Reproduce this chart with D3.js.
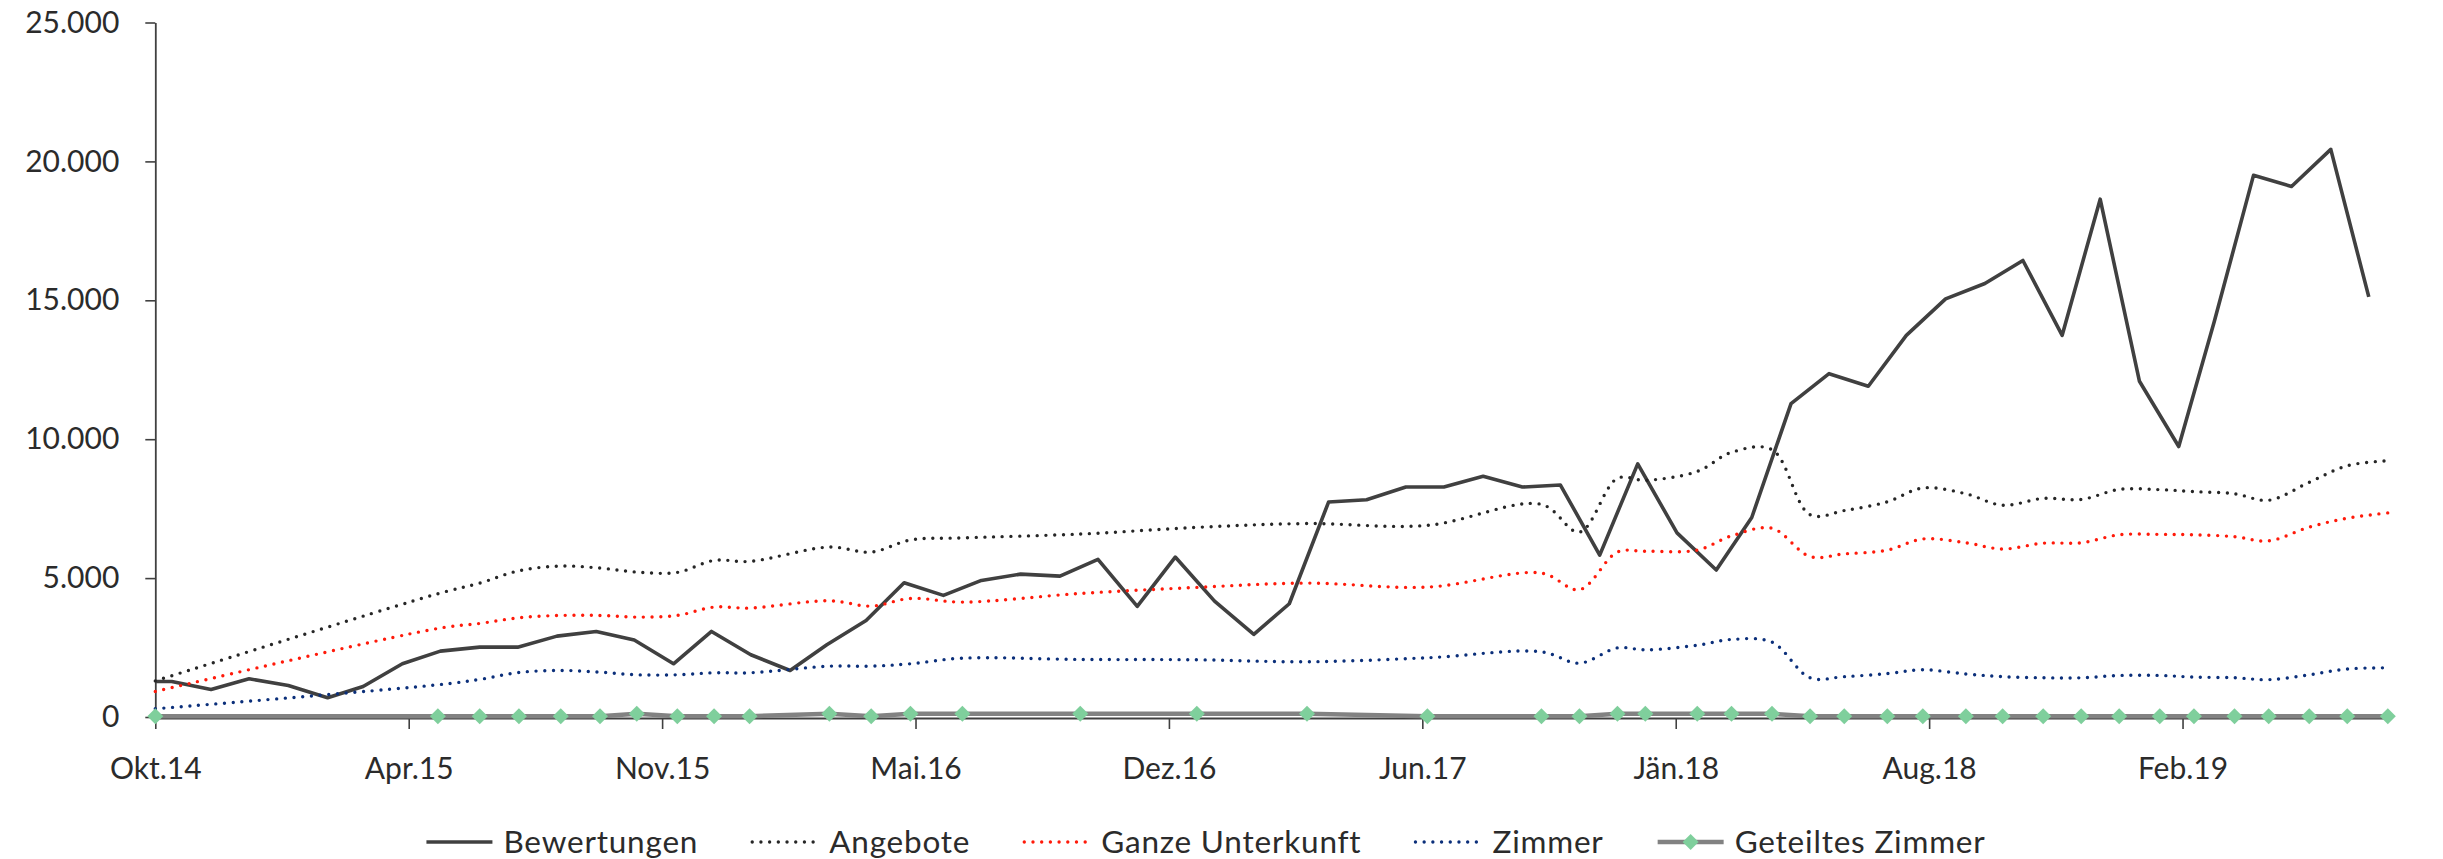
<!DOCTYPE html>
<html lang="de">
<head>
<meta charset="utf-8">
<script src="https://cdn.jsdelivr.net/npm/d3@7"></script>
<style>
  html, body { margin: 0; padding: 0; background: #fff; }
  svg { display: block; }
  text { font-family: Lato, "Open Sans", sans-serif; fill: #2b2b2b; }
</style>
</head>
<body>
<svg id="chart" width="2443" height="859"></svg>
<script>
// ---- Monthly review counts (Bewertungen) ----
const reviewDates = [
  "2014-10-02","2014-10-15","2014-11-15","2014-12-15","2015-01-15","2015-02-15","2015-03-15",
  "2015-04-15","2015-05-15","2015-06-15","2015-07-15","2015-08-15","2015-09-15","2015-10-15",
  "2015-11-15","2015-12-15","2016-01-15","2016-02-15","2016-03-15","2016-04-15","2016-05-15",
  "2016-06-15","2016-07-15","2016-08-15","2016-09-15","2016-10-15","2016-11-15","2016-12-15",
  "2017-01-15","2017-02-15","2017-03-15","2017-04-15","2017-05-15","2017-06-15","2017-07-15",
  "2017-08-15","2017-09-15","2017-10-15","2017-11-15","2017-12-15","2018-01-15","2018-02-15",
  "2018-03-15","2018-04-15","2018-05-15","2018-06-15","2018-07-15","2018-08-15","2018-09-15",
  "2018-10-15","2018-11-15","2018-12-15","2019-01-15","2019-02-15","2019-03-15","2019-04-15",
  "2019-05-15","2019-06-15","2019-07-15"
];
const bewertungen = [
  1280, 1280, 990, 1376, 1135, 692, 1099,
  1916, 2370, 2514, 2514, 2911, 3080, 2770,
  1916, 3080, 2240, 1675, 2600, 3476, 4834,
  4377, 4917, 5144, 5072, 5673, 3980, 5757,
  4171, 2972, 4077, 7737, 7823, 8278, 8278,
  8663, 8278, 8350, 5828, 9113, 6628, 5291,
  7182, 11282, 12359, 11905, 13738, 15053, 15604,
  16433, 13738, 18641, 12085, 9736, 14224, 19498,
  19098, 20434, 15122
];

// ---- Listing snapshots ----
const listingDates = [
  "2014-10-02","2015-05-13","2015-06-15","2015-07-16","2015-08-18","2015-09-18","2015-10-17",
  "2015-11-18","2015-12-17","2016-01-14","2016-03-17","2016-04-19","2016-05-20","2016-06-30",
  "2016-10-01","2017-01-01","2017-03-29","2017-07-02","2017-09-30","2017-10-30","2017-11-29",
  "2017-12-21","2018-01-31","2018-02-27","2018-03-31","2018-04-30","2018-05-27","2018-06-30",
  "2018-07-28","2018-08-31","2018-09-29","2018-10-31","2018-11-30","2018-12-30","2019-01-31",
  "2019-02-27","2019-03-31","2019-04-27","2019-05-29","2019-06-28","2019-07-30"
];
const angebote = [
  1300, 4437, 4820, 5265, 5433, 5361, 5217,
  5205, 5637, 5601, 6117, 5937, 6370, 6448,
  6585, 6826, 6963, 6898, 7654, 6657, 8591,
  8519, 8840, 9527, 9625, 7280, 7431, 7748,
  8245, 8036, 7622, 7870, 7831, 8191, 8184,
  8115, 8036, 7802, 8450, 9045, 9225
];
const ganzeUnterkunft = [
  918, 3188, 3368, 3572, 3656, 3656, 3596,
  3656, 3956, 3920, 4185, 3992, 4268, 4136,
  4448, 4665, 4820, 4676, 5180, 4582, 5940,
  5965, 6008, 6520, 6793, 5774, 5871, 6008,
  6408, 6271, 6048, 6257, 6271, 6559, 6574,
  6559, 6491, 6340, 6837, 7154, 7348
];
const zimmer = [
  295, 1160, 1351, 1603, 1675, 1614, 1520,
  1520, 1592, 1592, 1830, 1830, 1916, 2118,
  2071, 2060, 1988, 2132, 2348, 1938, 2489,
  2417, 2583, 2791, 2694, 1412, 1452, 1563,
  1700, 1549, 1452, 1412, 1412, 1495, 1495,
  1437, 1412, 1344, 1520, 1729, 1769
];
const geteiltesZimmer = [
  30, 30, 30, 30, 30, 30, 115,
  30, 30, 30, 115, 30, 115, 115,
  115, 115, 115, 30, 30, 30, 115,
  115, 115, 115, 115, 30, 30, 30,
  30, 30, 30, 30, 30, 30, 30,
  30, 30, 30, 30, 30, 30
];

// ---- Axes ----
const xTickDates = ["2014-10-02","2015-04-20","2015-11-06","2016-05-24","2016-12-10",
                    "2017-06-28","2018-01-14","2018-08-02","2019-02-18"];
const xTickLabels = ["Okt.14","Apr.15","Nov.15","Mai.16","Dez.16","Jun.17","Jän.18","Aug.18","Feb.19"];
const yTicks = [0, 5000, 10000, 15000, 20000, 25000];

const parse = d3.utcParse("%Y-%m-%d");
const de = d3.formatLocale({ decimal: ",", thousands: ".", grouping: [3], currency: ["", " €"] });
const fmt = de.format(",");

const svg = d3.select("#chart");
const FONT = 30;
const FONT_FAMILY = "Lato, 'Open Sans', sans-serif";

const x = d3.scaleUtc()
  .domain([parse(listingDates[0]), parse(listingDates[listingDates.length - 1])])
  .range([155.3, 2387.8]);
const y = d3.scaleLinear().domain([0, 25000]).range([717, 22.5]);

const axisColor = "#404040";

// y axis
const gy = svg.append("g")
  .attr("transform", `translate(${x.range()[0]},0)`)
  .call(d3.axisLeft(y).tickValues(yTicks).tickFormat(fmt).tickSize(10).tickSizeOuter(0).tickPadding(26));
gy.selectAll("text").attr("font-size", FONT).style("font-family", FONT_FAMILY).attr("fill", "#2b2b2b");

// x axis
const gx = svg.append("g")
  .attr("transform", `translate(0,${y(0) + 1})`)
  .call(d3.axisBottom(x).tickValues(xTickDates.map(parse))
        .tickFormat((d, i) => xTickLabels[i]).tickSize(11).tickSizeOuter(0).tickPadding(29));
gx.selectAll("text").attr("font-size", FONT).style("font-family", FONT_FAMILY).attr("fill", "#2b2b2b");

[gx, gy].forEach(g => {
  g.select(".domain").attr("stroke", axisColor).attr("stroke-width", 1.8);
  g.selectAll(".tick line").attr("stroke", axisColor).attr("stroke-width", 1.6);
});

// ---- Series ----
const reviewPts = reviewDates.map((d, i) => ({ date: parse(d), v: bewertungen[i] }));
const listPts = arr => listingDates.map((d, i) => ({ date: parse(d), v: arr[i] }));

const straight = d3.line().x(d => x(d.date)).y(d => y(d.v));
const smooth = d3.line().x(d => x(d.date)).y(d => y(d.v)).curve(d3.curveCatmullRom.alpha(0.5));

const series = [
  { name: "Bewertungen", data: reviewPts, gen: straight, color: "#404040", width: 3.6, dotted: false },
  { name: "Angebote", data: listPts(angebote), gen: smooth, color: "#262626", width: 3.4, dotted: true },
  { name: "Ganze Unterkunft", data: listPts(ganzeUnterkunft), gen: smooth, color: "#ff1a0a", width: 3.4, dotted: true },
  { name: "Zimmer", data: listPts(zimmer), gen: smooth, color: "#0b2f7a", width: 3.4, dotted: true },
  { name: "Geteiltes Zimmer", data: listPts(geteiltesZimmer), gen: straight, color: "#828282", width: 4.5, dotted: false, marker: "#7fcf9c" }
];

const DOT_GAP = "0 8.7";
const diamond = r => `M0,${-r}L${r},0L0,${r}L${-r},0Z`;

series.forEach(s => {
  svg.append("path")
    .datum(s.data)
    .attr("d", s.gen)
    .attr("fill", "none")
    .attr("stroke", s.color)
    .attr("stroke-width", s.width)
    .attr("stroke-linejoin", "round")
    .attr("stroke-linecap", s.dotted ? "round" : "butt")
    .attr("stroke-dasharray", s.dotted ? DOT_GAP : null);
  if (s.marker) {
    svg.append("g").selectAll("path")
      .data(s.data)
      .join("path")
      .attr("transform", d => `translate(${x(d.date)},${y(d.v)})`)
      .attr("d", diamond(8))
      .attr("fill", s.marker);
  }
});

// ---- Legend ----
const legendY = 842;
const lg = svg.append("g");
const sampleLen = 66, textGap = 11, itemGap = 54;
const items = [];
series.forEach(s => {
  const item = lg.append("g");
  item.append("line")
    .attr("x1", 0).attr("x2", sampleLen).attr("y1", 0).attr("y2", 0)
    .attr("stroke", s.color).attr("stroke-width", s.width)
    .attr("stroke-linecap", s.dotted ? "round" : "butt")
    .attr("stroke-dasharray", s.dotted ? DOT_GAP : null);
  if (s.marker) {
    item.append("path").attr("d", diamond(8)).attr("transform", `translate(${sampleLen / 2},0)`).attr("fill", s.marker);
  }
  const t = item.append("text")
    .attr("x", sampleLen + textGap).attr("y", 0).attr("dy", "0.35em")
    .attr("font-size", 31.5)
    .attr("letter-spacing", 0.8)
    .text(s.name);
  items.push({ item, w: sampleLen + textGap + t.node().getComputedTextLength() });
});
const total = d3.sum(items, d => d.w) + itemGap * (items.length - 1);
let cursor = 1206 - total / 2;
items.forEach(d => {
  d.item.attr("transform", `translate(${cursor},${legendY})`);
  cursor += d.w + itemGap;
});
</script>
</body>
</html>
